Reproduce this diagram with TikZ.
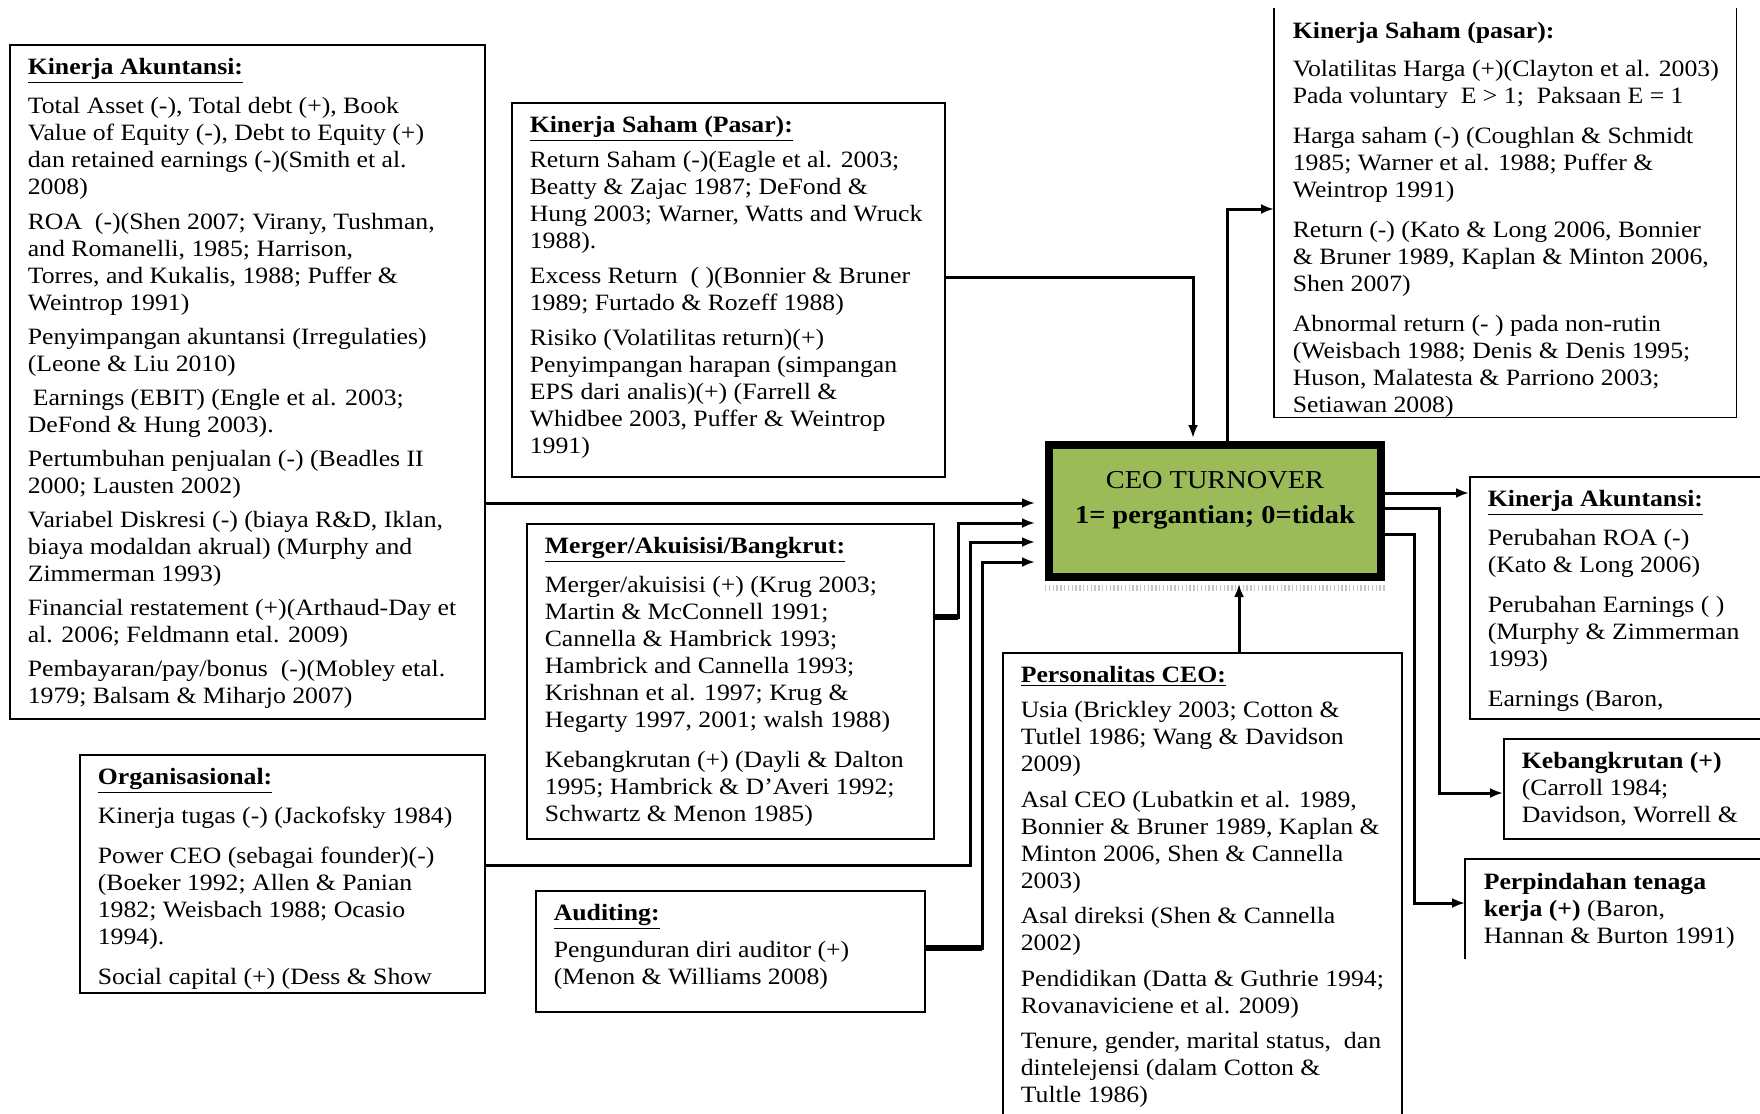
\documentclass[tikz,border=0pt]{standalone}
\usepackage{fontspec}
\setmainfont{Liberation Serif}[FakeStretch=1.1]
\usetikzlibrary{arrows.meta}

\definecolor{ceogreen}{RGB}{155,187,89}

\newcommand{\hd}[1]{\underline{\textbf{#1}}}
\newcommand{\boxtxt}[3]{\begin{minipage}[t][#2][t]{#1}\vspace*{1.5pt}\begin{tabular}[t]{@{}l@{}}#3\end{tabular}\end{minipage}}

\begin{document}
\begin{tikzpicture}[x=0.5pt, y=-0.5pt, >={Latex[length=6.5pt,width=5pt]},
    box/.style={draw, line width=0.8pt, anchor=north west, inner xsep=9pt, inner ysep=4pt,
      font=\fontsize{11.7pt}{13.5pt}\selectfont},
    openbox/.style={box, draw=none},
    boxline/.style={line width=0.8pt},
    conn/.style={line width=1.5pt, ->},
    stub/.style={line width=2.6pt},
    ceobox/.style={draw, line width=4pt, fill=ceogreen, minimum width=166pt, minimum height=66pt},
    ceotext/.style={align=center, font=\fontsize{12.9pt}{17.5pt}\selectfont}]
  \useasboundingbox (0,0) rectangle (1760,1113);

  % pengaruh ke CEO turnover
  \node[box] (akunL) at (9,44) {\boxtxt{219.5pt}{329pt}{%
    \hd{Kinerja Akuntansi:}\\[6pt]
    Total Asset (-), Total debt (+), Book\\
    Value of Equity (-), Debt to Equity (+)\\
    dan retained earnings (-)(Smith et al.\\
    2008)\\[4pt]
    ROA~ (-)(Shen 2007; Virany, Tushman,\\
    and Romanelli, 1985; Harrison,\\
    Torres, and Kukalis, 1988; Puffer \&\\
    Weintrop 1991)\\[3.5pt]
    Penyimpangan akuntansi (Irregulaties)\\
    (Leone \& Liu 2010)\\[3.5pt]
    \hspace{2.5pt}Earnings (EBIT) (Engle et al. 2003;\\
    DeFond \& Hung 2003).\\[3.5pt]
    Pertumbuhan penjualan (-) (Beadles II\\
    2000; Lausten 2002)\\[3.5pt]
    Variabel Diskresi (-) (biaya R\&D, Iklan,\\
    biaya modaldan akrual) (Murphy and\\
    Zimmerman 1993)\\[3.5pt]
    Financial restatement (+)(Arthaud-Day et\\
    al. 2006; Feldmann etal. 2009)\\[3.5pt]
    Pembayaran/pay/bonus~ (-)(Mobley etal.\\
    1979; Balsam \& Miharjo 2007)}};

  \node[box] (sahamL) at (511,102) {\boxtxt{198.5pt}{179pt}{%
    \hd{Kinerja Saham (Pasar):}\\[4pt]
    Return Saham (-)(Eagle et al. 2003;\\
    Beatty \& Zajac 1987; DeFond \&\\
    Hung 2003; Warner, Watts and Wruck\\
    1988).\\[4pt]
    Excess Return~ ( )(Bonnier \& Bruner\\
    1989; Furtado \& Rozeff 1988)\\[4pt]
    Risiko (Volatilitas return)(+)\\
    Penyimpangan harapan (simpangan\\
    EPS dari analis)(+) (Farrell \&\\
    Whidbee 2003, Puffer \& Weintrop\\
    1991)}};

  \node[box] (merger) at (526,523) {\boxtxt{185.5pt}{149.5pt}{%
    \hd{Merger/Akuisisi/Bangkrut:}\\[6pt]
    Merger/akuisisi (+) (Krug 2003;\\
    Martin \& McConnell 1991;\\
    Cannella \& Hambrick 1993;\\
    Hambrick and Cannella 1993;\\
    Krishnan et al. 1997; Krug \&\\
    Hegarty 1997, 2001; walsh 1988)\\[6.5pt]
    Kebangkrutan (+) (Dayli \& Dalton\\
    1995; Hambrick \& D’Averi 1992;\\
    Schwartz \& Menon 1985)}};

  \node[box] (organ) at (79,754) {\boxtxt{184.5pt}{111pt}{%
    \hd{Organisasional:}\\[6pt]
    Kinerja tugas (-) (Jackofsky 1984)\\[6.5pt]
    Power CEO (sebagai founder)(-)\\
    (Boeker 1992; Allen \& Panian\\
    1982; Weisbach 1988; Ocasio\\
    1994).\\[6.5pt]
    Social capital (+) (Dess \& Show}};

  \node[box] (audit) at (535,890) {\boxtxt{176.5pt}{52.5pt}{%
    \hd{Auditing:}\\[5pt]
    Pengunduran diri auditor (+)\\
    (Menon \& Williams 2008)}};

  \node[box] (person) at (1002,652) {\boxtxt{181.5pt}{228.5pt}{%
    \hd{Personalitas CEO:}\\[4pt]
    Usia (Brickley 2003; Cotton \&\\
    Tutlel 1986; Wang \& Davidson\\
    2009)\\[4.5pt]
    Asal CEO (Lubatkin et al. 1989,\\
    Bonnier \& Bruner 1989, Kaplan \&\\
    Minton 2006, Shen \& Cannella\\
    2003)\\[4pt]
    Asal direksi (Shen \& Cannella\\
    2002)\\[4.5pt]
    Pendidikan (Datta \& Guthrie 1994;\\
    Rovanaviciene et al. 2009)\\[4pt]
    Tenure, gender, marital status,~ dan\\
    dintelejensi (dalam Cotton \&\\
    Tultle 1986)}};

  % CEO turnover
  \node[ceobox] (ceo) at (1215,511) {};
  \draw[gray!45, line width=3pt, dash pattern=on 0.7pt off 1.2pt]
    ([yshift=-3.5pt]ceo.south west) -- ([yshift=-3.5pt]ceo.south east);
  \node[ceotext] (ceolbl) at ([yshift=5.5pt]ceo.center)
    {CEO TURNOVER\\\textbf{1= pergantian; 0=tidak}};

  % dampak CEO turnover
  \node[openbox] (sahamR) at (1274,8) {\boxtxt{212.5pt}{196pt}{%
    \textbf{Kinerja Saham (pasar):}\\[5.5pt]
    Volatilitas Harga (+)(Clayton et al. 2003)\\
    Pada voluntary~ E > 1;~ Paksaan E = 1\\[6.5pt]
    Harga saham (-) (Coughlan \& Schmidt\\
    1985; Warner et al. 1988; Puffer \&\\
    Weintrop 1991)\\[6.5pt]
    Return (-) (Kato \& Long 2006, Bonnier\\
    \& Bruner 1989, Kaplan \& Minton 2006,\\
    Shen 2007)\\[6.5pt]
    Abnormal return (- ) pada non-rutin\\
    (Weisbach 1988; Denis \& Denis 1995;\\
    Huson, Malatesta \& Parriono 2003;\\
    Setiawan 2008)}};
  \draw[boxline] (sahamR.north west) -- (sahamR.south west) -- (sahamR.south east) -- (sahamR.north east);

  \node[box] (akunR) at (1469,476) {\boxtxt{135pt}{113pt}{%
    \hd{Kinerja Akuntansi:}\\[6pt]
    Perubahan ROA (-)\\
    (Kato \& Long 2006)\\[6.5pt]
    Perubahan Earnings ( )\\
    (Murphy \& Zimmerman\\
    1993)\\[6.5pt]
    Earnings (Baron,}};

  \node[box] (bangkrut) at (1503,738) {\boxtxt{118pt}{42pt}{%
    \textbf{Kebangkrutan (+)}\\
    (Carroll 1984;\\
    Davidson, Worrell \&}};

  \node[openbox] (pindah) at (1465,859) {\boxtxt{137pt}{41pt}{%
    \textbf{Perpindahan tenaga}\\
    \textbf{kerja (+)} (Baron,\\
    Hannan \& Burton 1991)}};
  \draw[boxline] (pindah.south west) -- (pindah.north west) -- (pindah.north east);

  % panah masuk
  \draw[conn, shorten >=5pt] (akunL.east |- 0,503) -- (ceo.west |- 0,503);
  \draw[stub] (merger.east |- 0,617) -- (958,617);
  \draw[conn, shorten >=5pt] (merger.east |- 0,617) -| (958,523) -- (ceo.west |- 0,523);
  \draw[conn, shorten >=5pt] (organ.east |- 0,865) -| (970,542) -- (ceo.west |- 0,542);
  \draw[stub] (audit.east |- 0,948) -- (982,948);
  \draw[conn, shorten >=5pt] (audit.east |- 0,948) -| (982,562) -- (ceo.west |- 0,562);
  \draw[conn, shorten >=1.5pt] (sahamL.east |- 0,277) -| (1193,0 |- ceo.north);
  \draw[conn, shorten >=1.5pt] (person.north -| 1239,0) -- (ceo.south -| 1239,0);

  % panah keluar
  \draw[conn] (ceo.north -| 1227,0) |- (sahamR.west |- 0,209);
  \draw[conn] (ceo.east |- 0,493) -- (akunR.west |- 0,493);
  \draw[conn] (ceo.east |- 0,508) -| (1439,793) -- (bangkrut.west |- 0,793);
  \draw[conn] (ceo.east |- 0,534) -| (1414,903) -- (pindah.west |- 0,903);
\end{tikzpicture}
\end{document}
